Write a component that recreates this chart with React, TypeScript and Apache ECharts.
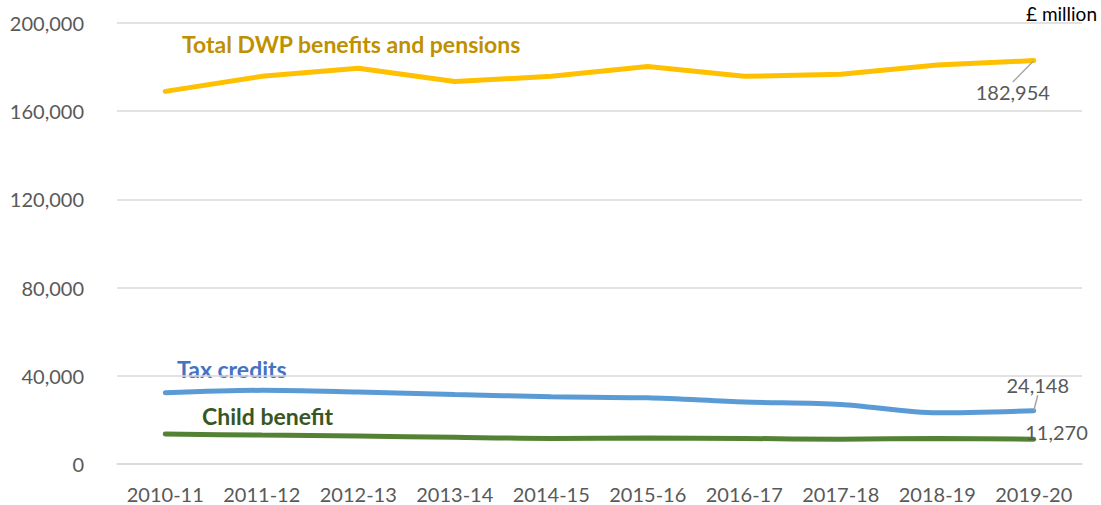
import React, { useEffect, useRef } from "react";
import * as echarts from "echarts";

const categories = ["2010-11", "2011-12", "2012-13", "2013-14", "2014-15", "2015-16", "2016-17", "2017-18", "2018-19", "2019-20"];
const totalDwp = [169000, 175800, 179500, 173500, 175800, 180300, 175800, 176800, 181000, 182954];
const taxCredits = [32300, 33400, 32600, 31500, 30500, 30000, 28100, 27000, 23200, 24148];
const childBenefit = [13600, 13100, 12700, 12100, 11600, 11800, 11600, 11200, 11600, 11270];
const yTicks = [0, 40000, 80000, 120000, 160000, 200000];

const FONT = "Lato";
const fmt = (v: number) => v.toLocaleString("en-GB");

function withLastLabel(values: number[]) {
  return values.map((v, i) =>
    i === values.length - 1 ? { value: v, label: { show: true } } : { value: v, label: { show: false } }
  );
}

export default function App() {
  const ref = useRef<HTMLDivElement>(null);
  useEffect(() => {
    if (!ref.current) return;
    const chart = echarts.init(ref.current, null, { renderer: "svg" });
    const labelBase = {
      fontFamily: FONT,
      fontSize: 20,
      color: "#595959",
      formatter: (p: any) => fmt(p.value),
    };
    chart.setOption({
      animation: false,
      backgroundColor: "#ffffff",
      grid: { left: 117, right: 19, top: 23, bottom: 41, containLabel: false },
      xAxis: {
        type: "category",
        data: categories,
        boundaryGap: true,
        axisLine: { show: true, lineStyle: { color: "#D9D9D9", width: 1.5 } },
        axisTick: { show: false },
        axisLabel: { color: "#595959", fontFamily: FONT, fontSize: 20, margin: 20, interval: 0 },
      },
      yAxis: {
        type: "value",
        min: yTicks[0],
        max: yTicks[yTicks.length - 1],
        interval: yTicks[1] - yTicks[0],
        axisLine: { show: false },
        axisTick: { show: false },
        splitLine: { lineStyle: { color: "#D9D9D9", width: 1.5 } },
        axisLabel: { color: "#595959", fontFamily: FONT, fontSize: 20, margin: 33, formatter: (v: number) => fmt(v) },
      },
      series: [
        {
          name: "Total DWP benefits and pensions",
          type: "line",
          data: withLastLabel(totalDwp),
          symbol: "circle",
          symbolSize: 1,
          itemStyle: { color: "#FFC000" },
          lineStyle: { color: "#FFC000", width: 5, cap: "round", join: "round" },
          label: { ...labelBase, position: "bottom" },
          labelLayout: { dx: -21, dy: 16 },
          labelLine: { show: true, lineStyle: { color: "#A6A6A6", width: 1.5 } },
        },
        {
          name: "Tax credits",
          type: "line",
          data: withLastLabel(taxCredits),
          smooth: 0.3,
          symbol: "circle",
          symbolSize: 1,
          itemStyle: { color: "#5B9BD5" },
          lineStyle: { color: "#5B9BD5", width: 5, cap: "round" },
          label: { ...labelBase, position: "top" },
          labelLayout: { dx: 4, dy: -10 },
          labelLine: { show: true, lineStyle: { color: "#A6A6A6", width: 1.5 } },
        },
        {
          name: "Child benefit",
          type: "line",
          data: withLastLabel(childBenefit),
          smooth: 0.3,
          symbol: "circle",
          symbolSize: 1,
          itemStyle: { color: "#548235" },
          lineStyle: { color: "#548235", width: 5, cap: "round" },
          label: { ...labelBase, position: "right" },
          labelLayout: { dx: -14, dy: -7 },
        },
      ],
      graphic: [
        {
          type: "text",
          left: 182,
          top: 32,
          style: { text: "Total DWP benefits and pensions", fill: "#BF9000", font: `bold 23px ${FONT}` },
        },
        {
          type: "text",
          left: 177,
          top: 357,
          style: { text: "Tax credits", fill: "#4472C4", font: `bold 23px ${FONT}` },
        },
        {
          type: "text",
          left: 202,
          top: 404,
          style: { text: "Child benefit", fill: "#375623", font: `bold 23px ${FONT}` },
        },
        {
          type: "text",
          right: 4,
          top: 4,
          style: { text: "£ million", fill: "#000000", font: `19px ${FONT}` },
        },
      ],
    });
    return () => chart.dispose();
  }, []);
  return <div ref={ref} style={{ position: "fixed", left: 0, top: 0, width: 1101, height: 505 }} />;
}
